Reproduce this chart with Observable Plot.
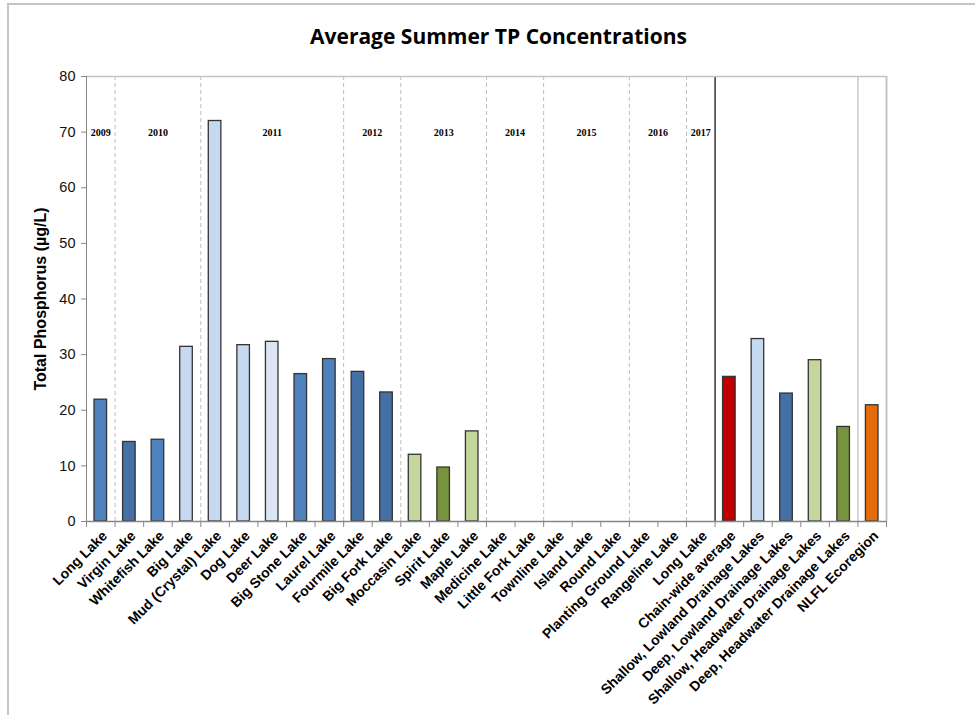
<!DOCTYPE html>
<html><head><meta charset="utf-8">
<script src="https://cdn.jsdelivr.net/npm/d3@7"></script>
<script src="https://cdn.jsdelivr.net/npm/@observablehq/plot@0.6"></script>
<style>
body{margin:0;background:#fff;}
#wrap{position:relative;width:975px;height:715px;overflow:hidden;background:#fff;}
#border{position:absolute;left:7px;top:3px;width:2000px;height:2000px;border-left:2px solid #c4c4c4;border-top:2px solid #c4c4c4;}
#wrap svg{position:absolute;left:0;top:0;}
</style></head><body><div id="wrap"><div id="border"></div></div>
<script>
const title = "Average Summer TP Concentrations";
const yTitle = "Total Phosphorus (µg/L)";
const categories = ["Long Lake","Virgin Lake","Whitefish Lake","Big Lake","Mud (Crystal) Lake","Dog Lake","Deer Lake","Big Stone Lake","Laurel Lake","Fourmile Lake","Big Fork Lake","Moccasin Lake","Spirit Lake","Maple Lake","Medicine Lake","Little Fork Lake","Townline Lake","Island Lake","Round Lake","Planting Ground Lake","Rangeline Lake","Long Lake","Chain-wide average","Shallow, Lowland Drainage Lakes","Deep, Lowland Drainage Lakes","Shallow, Headwater Drainage Lakes","Deep, Headwater Drainage Lakes","NLFL Ecoregion"];
const values = [21.9,14.3,14.7,31.4,72.0,31.7,32.3,26.5,29.2,26.9,23.2,12.0,9.7,16.2,null,null,null,null,null,null,null,null,26.0,32.8,23.0,29.0,17.0,20.9];
const yearLabels = ["2009","2010","2011","2012","2013","2014","2015","2016","2017"];
const yearCounts = [1,3,5,2,3,2,3,2,1];
const yTicks = [0,10,20,30,40,50,60,70,80];
const barColors = ["#4f81bd","#4470a6","#4f81bd","#c6d9f1","#c6d9f1","#c6d9f1","#dce6f2","#4f81bd","#4f81bd","#4470a6","#4470a6","#c3d69b","#77933c","#c3d69b",null,null,null,null,null,null,null,null,"#c00000","#c6d9f1","#4470a6","#c3d69b","#77933c","#e46c0a"];

const n = categories.length;
const lakeCount = d3.sum(yearCounts);
const cats = categories.map((name, i) => ({i, name, value: values[i], color: barColors[i]}));
let acc = 0;
const groups = yearLabels.map((year, k) => { const g = {year, start: acc, count: yearCounts[k]}; acc += yearCounts[k]; return g; });
const dashed = groups.slice(1).map(g => g.start);

const chart = Plot.plot({
  width: 975, height: 715,
  marginTop: 76, marginLeft: 86, marginRight: 89, marginBottom: 194,
  x: {domain: [0, n]},
  y: {domain: [0, 80]},
  style: {fontFamily: "Liberation Sans, Arial, sans-serif", fontSize: "14px", color: "#000", background: "transparent"},
  marks: [
    Plot.ruleX(dashed, {stroke: "#bdbdbd", strokeDasharray: "4,3"}),
    Plot.ruleX([lakeCount], {stroke: "#000", strokeWidth: 1.2}),
    Plot.ruleX([n - 1], {stroke: "#c8c8c8", strokeWidth: 1.5}),
    Plot.ruleY([80], {stroke: "#c4c4c4", strokeWidth: 1.5}),
    Plot.ruleX([n], {stroke: "#c4c4c4", strokeWidth: 2}),
    Plot.rectY(cats.filter(d => d.value != null), {x1: d => d.i + 0.28, x2: d => d.i + 0.72, y: "value", fill: "color", stroke: "#333", strokeWidth: 1.3}),
    Plot.ruleX([0], {stroke: "#888"}),
    Plot.ruleY([0], {stroke: "#888", strokeWidth: 1.5}),
    Plot.axisY({ticks: yTicks, tickSize: 5, tickPadding: 6, stroke: "#888", fill: "#111", fontSize: 14.5, label: null}),
    Plot.axisX({ticks: d3.range(n + 1), tickSize: 6, tickFormat: () => "", stroke: "#888", label: null}),
    Plot.text(cats, {x: d => d.i + 0.5, text: "name", frameAnchor: "bottom", rotate: -45, textAnchor: "end", lineAnchor: "middle", dx: 4, dy: 12, fontWeight: "bold", fontSize: 14, fill: "#000"}),
    Plot.text(groups, {x: d => d.start + d.count / 2, text: "year", frameAnchor: "top", dy: 52, fontFamily: "Liberation Serif, Times New Roman, serif", fontWeight: "bold", fontSize: 10, fill: "#000"}),
    Plot.text([title], {frameAnchor: "top", dx: 12, dy: -47, fontFamily: "Open Sans, sans-serif", fontWeight: "bold", fontSize: 21, fill: "#000"}),
    Plot.text([yTitle], {frameAnchor: "left", textAnchor: "middle", rotate: -90, dx: -46, fontWeight: "bold", fontSize: 16, fill: "#000"})
  ]
});
document.getElementById("wrap").appendChild(chart);
</script></body></html>
